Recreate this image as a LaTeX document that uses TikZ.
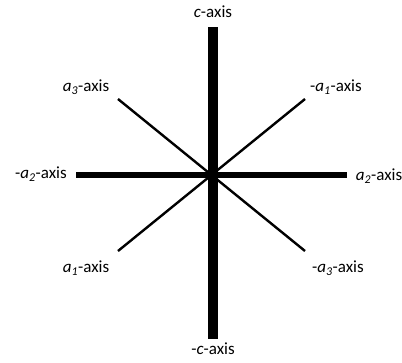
\documentclass[tikz,border=0pt]{standalone}
\usepackage{fontspec}
\setmainfont{Carlito}
\usepackage{tikz}

\newcommand{\ax}[1]{\textit{a}\textsubscript{\textit{#1}}}

\begin{document}
\begin{tikzpicture}[x=1pt,y=-1pt,font=\fontsize{17}{20}\selectfont]
			\useasboundingbox (0,0) rectangle (402,362);
			\coordinate (ctop) at (213,27); \coordinate (cbot) at (213,339);
			\coordinate (atwo) at (347,175); \coordinate (mtwo) at (76,175);
			\coordinate (mone) at (305,99); \coordinate (aone) at (118,251);
			\coordinate (athree) at (118,99); \coordinate (mthree) at (305,251);
			\draw[line width=2.4] (athree) -- (mthree);
			\draw[line width=2.4] (mone) -- (aone);
			\draw[line width=6] (mtwo) -- (atwo);
			\draw[line width=10] (ctop) -- (cbot);
			\node (lc) at (213,12) {\textit{c}-axis};
			\node (lmc) at (213,349) {-\textit{c}-axis};
			\node (la3) at (86,87) {\ax{3}-axis};
			\node (lma1) at (336,87) {-\ax{1}-axis};
			\node (lma2) at (41,174) {-\ax{2}-axis};
			\node (la2) at (379,176) {\ax{2}-axis};
			\node (la1) at (86,268) {\ax{1}-axis};
			\node (lma3) at (338,268) {-\ax{3}-axis};
		\end{tikzpicture}
\end{document}
